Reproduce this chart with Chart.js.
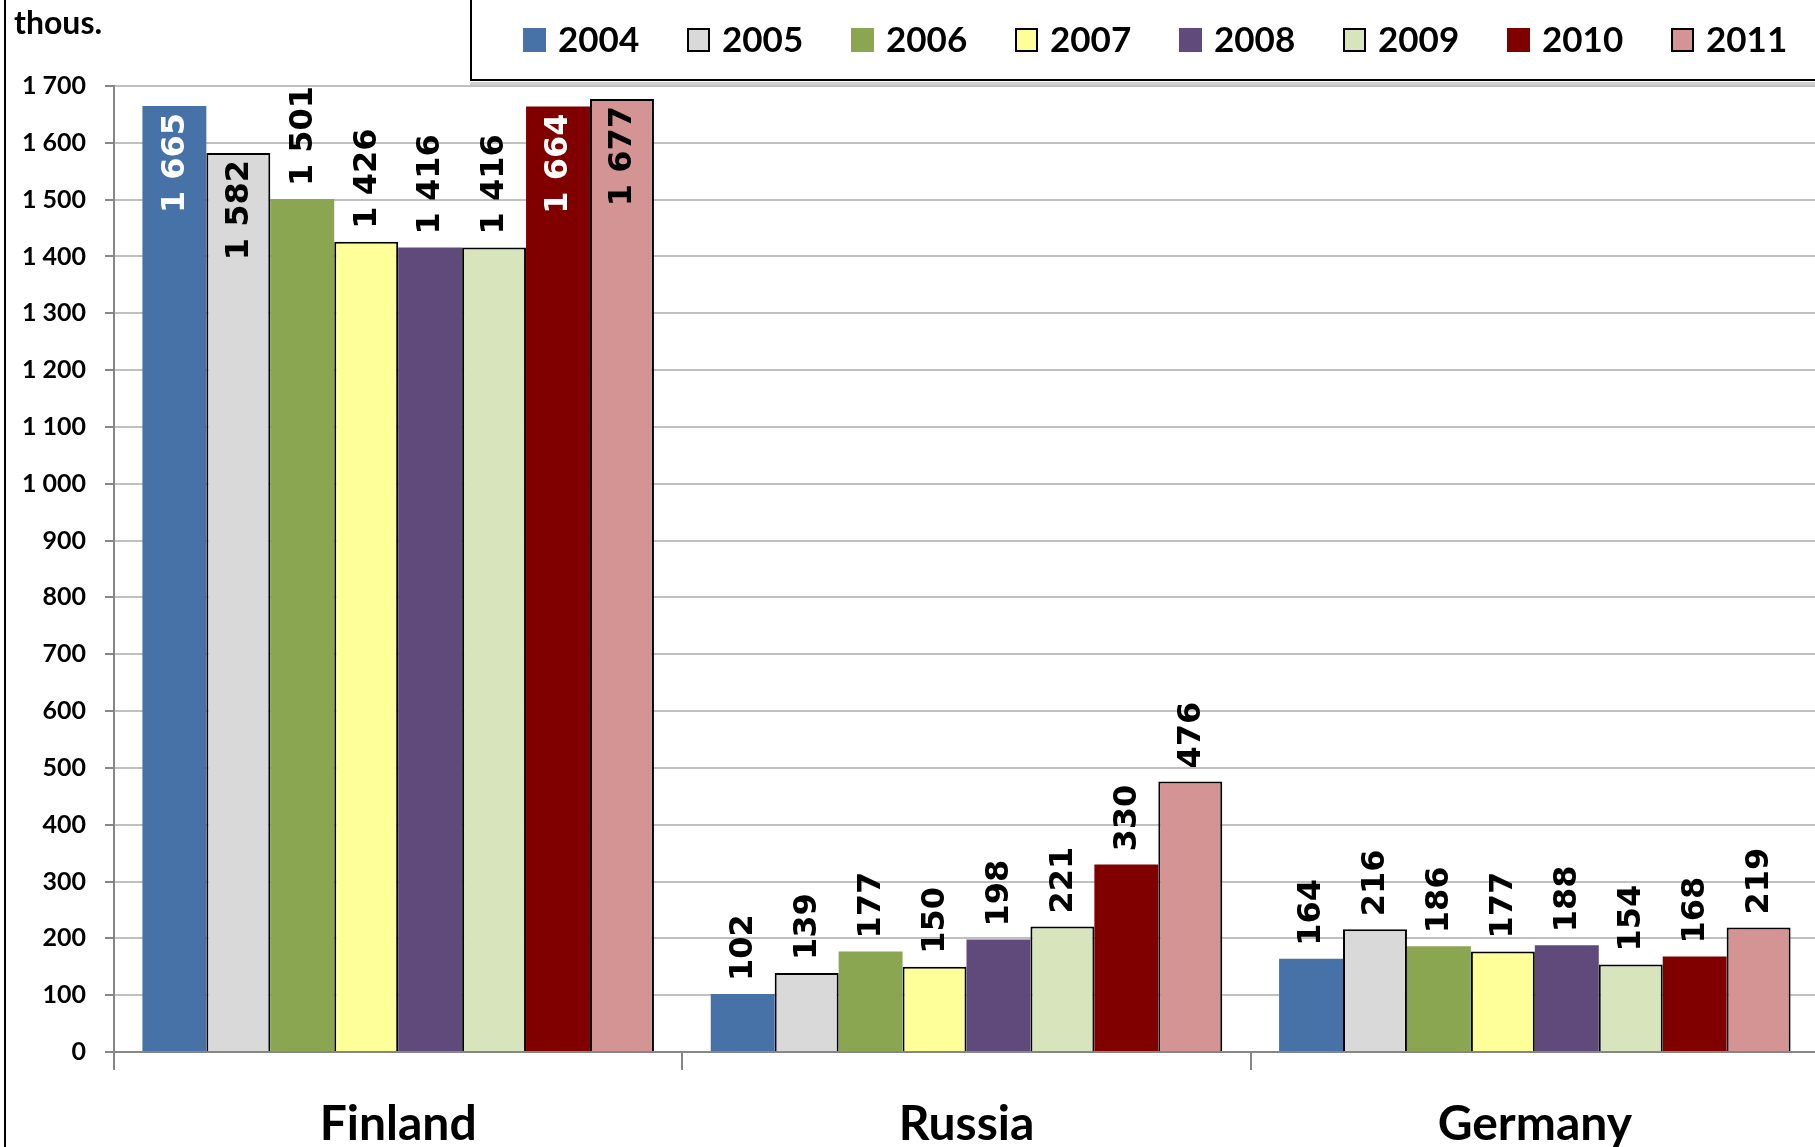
<!DOCTYPE html>
<html>
<head>
<meta charset="utf-8">
<script src="https://cdn.jsdelivr.net/npm/chart.js@4.4.1/dist/chart.umd.min.js"></script>
<style>
  body { margin: 0; background: #fff; overflow: hidden; }
  #wrap { width: 1815px; height: 1147px; overflow: hidden; }
</style>
</head>
<body>
<div id="wrap"><canvas id="visitorsChart" width="1819" height="1147"></canvas></div>
<script>
// data, thousands of visitors
const countries = ['Finland', 'Russia', 'Germany'];
const years = ['2004', '2005', '2006', '2007', '2008', '2009', '2010', '2011'];
const finland = [1665, 1582, 1501, 1426, 1416, 1416, 1664, 1677];
const russia = [102, 139, 177, 150, 198, 221, 330, 476];
const germany = [164, 216, 186, 177, 188, 154, 168, 219];

const yearColors = ['#4672a8', '#d9d9d9', '#8ba650', '#ffff99', '#604a7b', '#d8e4bc', '#800000', '#d49494'];
const yearBorders = [0, 2, 0, 2, 0, 2, 0, 2];
const insideColors = ['#fff', '#000', '#fff', '#000', '#fff', '#000', '#fff', '#000'];

const fmt = v => String(v).replace(/\B(?=(\d{3})+(?!\d))/g, ' ');

const datasets = years.map((y, i) => ({
    label: y,
    data: [finland[i], russia[i], germany[i]],
    backgroundColor: yearColors[i],
    borderColor: '#000',
    borderWidth: yearBorders[i],
    borderSkipped: 'bottom',
    insideLabelColor: insideColors[i]
}));

// rotated value labels, inside the bar when they don't fit above
const barLabels = {
    id: 'barLabels',
    afterDatasetsDraw(chart) {
        const ctx = chart.ctx;
        const top = chart.chartArea.top;
        ctx.save();
        ctx.font = 'bold 32px "DejaVu Sans"';
        ctx.textBaseline = 'middle';
        chart.data.datasets.forEach((ds, i) => {
            chart.getDatasetMeta(i).data.forEach((bar, j) => {
                const text = fmt(ds.data[j]);
                const len = ctx.measureText(text).width;
                const outside = bar.y - 14 - len >= top - 8;
                ctx.save();
                ctx.translate(bar.x, bar.y);
                ctx.rotate(-Math.PI / 2);
                if (outside) {
                    ctx.textAlign = 'left';
                    ctx.fillStyle = '#000';
                    ctx.fillText(text, 13, 1);
                } else {
                    ctx.textAlign = 'right';
                    ctx.fillStyle = ds.insideLabelColor;
                    ctx.fillText(text, -7, 1);
                }
                ctx.restore();
            });
        });
        ctx.restore();
    }
};

// legend box top right, unit label, left frame line
const frame = {
    id: 'frame',
    afterDraw(chart) {
        const ctx = chart.ctx;
        ctx.save();
        ctx.strokeStyle = '#000';
        ctx.lineWidth = 2;
        ctx.beginPath();
        ctx.moveTo(5, 0);
        ctx.lineTo(5, 1147);
        ctx.stroke();

        ctx.fillStyle = '#000';
        ctx.font = 'bold 32px Lato';
        ctx.textBaseline = 'alphabetic';
        ctx.textAlign = 'left';
        ctx.fillText('thous.', 14, 34);

        ctx.fillStyle = '#d0d0d0';
        ctx.fillRect(470, 82, 1360, 3);
        ctx.fillStyle = '#fff';
        ctx.fillRect(471, -2, 1360, 82);
        ctx.strokeStyle = '#000';
        ctx.strokeRect(471, -2, 1360, 82);

        ctx.font = 'bold 35px Lato';
        ctx.textBaseline = 'middle';
        chart.data.datasets.forEach((ds, i) => {
            const x = 523 + i * 164;
            ctx.fillStyle = ds.backgroundColor;
            ctx.fillRect(x, 28, 23, 24);
            if (ds.borderWidth) {
                ctx.lineWidth = 2;
                ctx.strokeStyle = '#000';
                ctx.strokeRect(x + 1, 29, 21, 22);
            }
            ctx.fillStyle = '#000';
            ctx.fillText(ds.label, x + 35, 41);
        });
        ctx.restore();
    }
};

new Chart(document.getElementById('visitorsChart'), {
    type: 'bar',
    data: { labels: countries, datasets: datasets },
    options: {
        responsive: false,
        animation: false,
        layout: { padding: { top: 86, left: 0, right: 0, bottom: 0 } },
        datasets: { bar: { categoryPercentage: 0.9, barPercentage: 1 } },
        plugins: { legend: { display: false }, tooltip: { enabled: false } },
        scales: {
            x: {
                afterFit: s => { s.height = 95; },
                grid: { drawOnChartArea: false, tickLength: 18, tickColor: '#868686', lineWidth: 2 },
                border: { color: '#868686', width: 2 },
                ticks: { color: '#000', font: { family: 'Lato', weight: 'bold', size: 48 }, padding: 26 }
            },
            y: {
                min: 0,
                max: 1700,
                afterFit: s => { s.width = 114; },
                grid: { color: '#c0c0c0', lineWidth: 2, tickLength: 9, tickColor: '#868686' },
                border: { color: '#868686', width: 2 },
                ticks: {
                    stepSize: 100,
                    color: '#000',
                    padding: 19,
                    font: { family: 'Lato', weight: 'bold', size: 25 },
                    callback: v => fmt(v)
                }
            }
        }
    },
    plugins: [barLabels, frame]
});
</script>
</body>
</html>
